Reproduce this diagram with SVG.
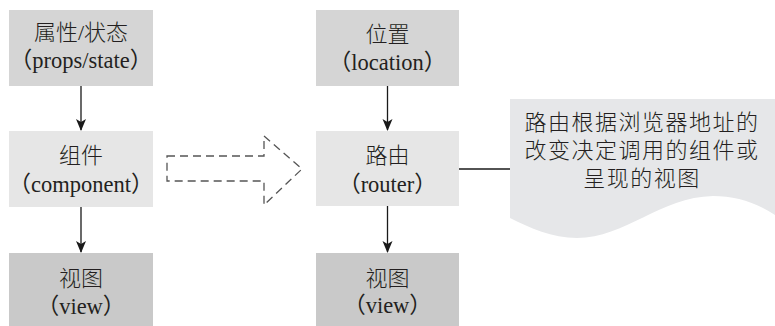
<svg xmlns="http://www.w3.org/2000/svg" width="775" height="326" viewBox="0 0 775 326">
<defs>
<style>
.t{font-family:"Liberation Serif","Noto Sans CJK SC",serif;fill:#231f20;text-anchor:middle}
.cn{font-size:22px;font-weight:300}
.en{font-size:22.5px}
.c1{fill:#d5d5d5}
.c2{fill:#e6e6e6}
.c3{fill:#c9c9c9}
.ln{stroke:#1a1a1a;stroke-width:1.3;fill:none}
</style>
<marker id="ah" markerWidth="12" markerHeight="12" refX="11" refY="5" orient="auto" markerUnits="userSpaceOnUse" viewBox="0 0 12 10">
<path d="M0,0 L12,5 L0,10 L3,5 Z" fill="#1a1a1a"/>
</marker>
</defs>
<g id="props">
<rect class="c1" x="9" y="10" width="144" height="76"/>
<text class="t cn" x="81" y="40">属性/状态</text>
<text class="t en" x="81" y="68">（props/state）</text>
</g>
<g id="component">
<rect class="c2" x="9" y="131" width="144" height="76"/>
<text class="t cn" x="81" y="163">组件</text>
<text class="t en" x="81" y="192">（component）</text>
</g>
<g id="view1">
<rect class="c3" x="9" y="253" width="144" height="73"/>
<text class="t cn" x="81" y="286">视图</text>
<text class="t en" x="81" y="314">（view）</text>
</g>
<g id="location">
<rect class="c1" x="316" y="10" width="143" height="76"/>
<text class="t cn" x="387.5" y="42">位置</text>
<text class="t en" x="387.5" y="70">（location）</text>
</g>
<g id="router">
<rect class="c2" x="316" y="131" width="143" height="75"/>
<text class="t cn" x="387.5" y="163">路由</text>
<text class="t en" x="387.5" y="192">（router）</text>
</g>
<g id="view2">
<rect class="c3" x="316" y="253" width="143" height="73"/>
<text class="t cn" x="387.5" y="286">视图</text>
<text class="t en" x="387.5" y="313">（view）</text>
</g>
<g id="note">
<path d="M510,99 L775,99 L775,215 C755,202 735,196 713,196 C660,197 625,238 577,238 C552,238 530,228 510,218 Z" fill="#e6e7e9"/>
<text class="t cn" x="642" y="130" letter-spacing="1.5">路由根据浏览器地址的</text>
<text class="t cn" x="642" y="158" letter-spacing="1.5">改变决定调用的组件或</text>
<text class="t cn" x="642" y="186" letter-spacing="1.5">呈现的视图</text>
</g>
<g id="connectors">
<line class="ln" x1="81" y1="86" x2="81" y2="130" marker-end="url(#ah)"/>
<line class="ln" x1="81" y1="207" x2="81" y2="252" marker-end="url(#ah)"/>
<line class="ln" x1="387.5" y1="86" x2="387.5" y2="130" marker-end="url(#ah)"/>
<line class="ln" x1="387.5" y1="206" x2="387.5" y2="252" marker-end="url(#ah)"/>
<line class="ln" x1="459" y1="169" x2="510" y2="169"/>
<polygon points="167,156 264,156 264,136 302,169 264,205 264,181 167,181" fill="none" stroke="#555" stroke-width="1.3" stroke-dasharray="8,5"/>
</g>
</svg>
